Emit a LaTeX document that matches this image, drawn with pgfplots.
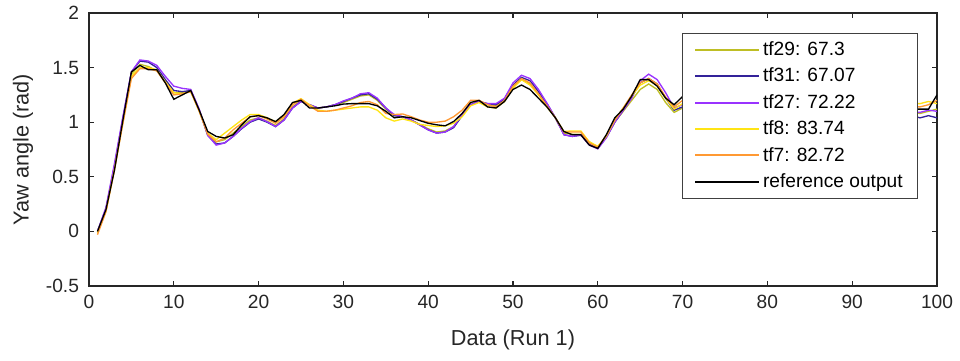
\documentclass[border=0pt]{standalone}
\usepackage{fontspec}
\setmainfont{Liberation Sans}
\usepackage{pgfplots}
\usepackage{pgfplotstable}
\pgfplotsset{compat=1.18}
\definecolor{colA}{RGB}{190,190,36}
\definecolor{colB}{RGB}{51,34,153}
\definecolor{colC}{RGB}{153,51,255}
\definecolor{colD}{RGB}{255,228,20}
\definecolor{colE}{RGB}{255,153,51}
\definecolor{axc}{RGB}{38,38,38}
\definecolor{legframe}{RGB}{64,64,64}
\pgfplotstableread{
x ref tfA tfB tfC tfD tfE
1 0.00 -0.01 0.00 0.00 -0.01 -0.03
2 0.20 0.19 0.21 0.22 0.19 0.18
3 0.56 0.58 0.60 0.62 0.57 0.56
4 1.02 1.02 1.04 1.05 1.00 0.99
5 1.46 1.44 1.46 1.46 1.42 1.40
6 1.52 1.53 1.56 1.57 1.50 1.49
7 1.48 1.51 1.55 1.56 1.50 1.49
8 1.48 1.47 1.50 1.52 1.48 1.47
9 1.36 1.37 1.39 1.42 1.37 1.36
10 1.21 1.27 1.29 1.33 1.27 1.25
11 1.25 1.27 1.28 1.31 1.26 1.26
12 1.29 1.29 1.29 1.30 1.28 1.28
13 1.11 1.11 1.11 1.12 1.10 1.10
14 0.915 0.89 0.88 0.88 0.90 0.89
15 0.87 0.82 0.80 0.79 0.84 0.82
16 0.855 0.84 0.81 0.81 0.90 0.855
17 0.885 0.90 0.87 0.87 0.96 0.93
18 0.975 0.96 0.94 0.945 1.02 0.99
19 1.05 1.02 1.00 1.005 1.07 1.05
20 1.06 1.04 1.03 1.04 1.07 1.06
21 1.04 1.01 1.00 1.005 1.04 1.03
22 1.005 0.97 0.96 0.96 1.005 0.99
23 1.07 1.03 1.02 1.02 1.06 1.05
24 1.18 1.14 1.13 1.13 1.175 1.16
25 1.20 1.20 1.19 1.19 1.215 1.21
26 1.13 1.16 1.16 1.16 1.16 1.15
27 1.13 1.13 1.13 1.13 1.11 1.10
28 1.14 1.14 1.14 1.14 1.10 1.10
29 1.15 1.16 1.16 1.16 1.11 1.11
30 1.166 1.18 1.19 1.195 1.12 1.13
31 1.17 1.21 1.22 1.22 1.13 1.15
32 1.17 1.24 1.25 1.26 1.14 1.18
33 1.17 1.25 1.26 1.27 1.14 1.19
34 1.15 1.20 1.21 1.22 1.11 1.16
35 1.10 1.12 1.13 1.13 1.04 1.08
36 1.04 1.06 1.06 1.07 1.01 1.07
37 1.05 1.05 1.05 1.05 1.03 1.075
38 1.04 1.02 1.02 1.02 1.01 1.05
39 1.015 0.98 0.975 0.976 0.98 1.02
40 0.99 0.94 0.93 0.93 0.97 1.00
41 0.976 0.91 0.90 0.90 0.96 1.00
42 0.967 0.92 0.91 0.91 0.967 1.01
43 1.006 0.96 0.95 0.96 0.99 1.05
44 1.08 1.06 1.06 1.07 1.05 1.11
45 1.18 1.16 1.16 1.16 1.15 1.20
46 1.20 1.19 1.19 1.19 1.18 1.20
47 1.14 1.16 1.17 1.17 1.14 1.16
48 1.13 1.15 1.16 1.17 1.13 1.14
49 1.19 1.21 1.21 1.22 1.19 1.20
50 1.30 1.33 1.34 1.36 1.31 1.33
51 1.34 1.39 1.41 1.43 1.39 1.40
52 1.30 1.35 1.38 1.40 1.34 1.36
53 1.22 1.26 1.28 1.30 1.25 1.26
54 1.14 1.16 1.17 1.175 1.14 1.15
55 1.04 1.04 1.04 1.04 1.04 1.04
56 0.915 0.90 0.885 0.885 0.915 0.91
57 0.885 0.89 0.87 0.87 0.92 0.91
58 0.885 0.89 0.88 0.885 0.92 0.91
59 0.79 0.82 0.80 0.79 0.82 0.81
60 0.76 0.77 0.76 0.756 0.78 0.77
61 0.885 0.87 0.86 0.857 0.87 0.88
62 1.04 1.00 1.00 1.00 1.02 1.02
63 1.12 1.10 1.11 1.11 1.13 1.13
64 1.24 1.20 1.23 1.22 1.24 1.25
65 1.39 1.30 1.36 1.38 1.34 1.36
66 1.39 1.35 1.40 1.44 1.38 1.40
67 1.33 1.30 1.35 1.39 1.34 1.35
68 1.22 1.18 1.22 1.27 1.22 1.23
69 1.16 1.09 1.11 1.13 1.12 1.14
70 1.235 1.13 1.14 1.16 1.17 1.20
71 1.28 1.20 1.21 1.22 1.23 1.25
72 1.30 1.27 1.28 1.29 1.28 1.29
73 1.27 1.28 1.29 1.30 1.27 1.28
74 1.20 1.22 1.23 1.24 1.20 1.21
75 1.12 1.13 1.14 1.15 1.12 1.13
76 1.05 1.05 1.05 1.06 1.06 1.06
77 1.01 0.99 0.99 0.99 1.02 1.01
78 1.02 0.99 0.98 0.98 1.03 1.02
79 1.08 1.05 1.04 1.05 1.09 1.08
80 1.16 1.14 1.13 1.14 1.16 1.16
81 1.21 1.21 1.21 1.22 1.21 1.21
82 1.20 1.22 1.23 1.24 1.20 1.21
83 1.14 1.17 1.18 1.19 1.14 1.16
84 1.08 1.10 1.11 1.12 1.08 1.10
85 1.05 1.05 1.05 1.06 1.06 1.07
86 1.07 1.05 1.04 1.05 1.08 1.08
87 1.13 1.10 1.10 1.11 1.14 1.14
88 1.20 1.18 1.18 1.19 1.20 1.20
89 1.24 1.24 1.25 1.26 1.23 1.24
90 1.22 1.24 1.25 1.27 1.22 1.23
91 1.16 1.19 1.20 1.21 1.16 1.18
92 1.10 1.12 1.12 1.13 1.11 1.12
93 1.07 1.07 1.07 1.08 1.09 1.09
94 1.08 1.06 1.05 1.06 1.10 1.09
95 1.11 1.08 1.07 1.08 1.13 1.12
96 1.13 1.10 1.08 1.10 1.16 1.14
97 1.12 1.09 1.06 1.09 1.17 1.14
98 1.12 1.08 1.04 1.09 1.17 1.14
99 1.12 1.10 1.06 1.11 1.19 1.16
100 1.25 1.12 1.04 1.10 1.17 1.20
}\datatable
\begin{document}
\begin{tikzpicture}
\begin{axis}[
  scale only axis,
  width=508.8pt, height=163.8pt,
  xmin=0, xmax=100, ymin=-0.5, ymax=2,
  xtick={0,10,...,100},
  ytick={-0.5,0,0.5,1,1.5,2},
  yticklabels={-0.5,0,0.5,1,1.5,2},
  tick align=inside,
  major tick length=3pt,
  axis line style={axc, line width=0.75pt},
  tick style={axc, line width=0.75pt},
  tick label style={font=\fontsize{11.5}{13}\selectfont, text=axc},
  /pgf/number format/assume math mode=true,
  xticklabel style={yshift=-2pt},
  yticklabel style={xshift=-2.5pt},
  xlabel={Data (Run 1)},
  ylabel={Yaw angle (rad)},
  label style={font=\fontsize{13}{15}\selectfont, text=axc},
  xlabel style={at={(axis description cs:0.5,-0.198)}, anchor=center},
  ylabel style={at={(axis description cs:-0.0778,0.5)}, anchor=center},
  legend cell align=left,
  legend image code/.code={\draw[#1, line width=1.2pt] (0pt,0pt) -- (38pt,0pt);},
  legend style={at={(rel axis cs:0.9776,0.9267)}, anchor=north east,
    draw=legframe, fill=white,
    font=\fontsize{11.5}{13}\selectfont,
    row sep=0pt, inner xsep=7pt, inner ysep=2pt,
    nodes={inner ysep=3.0pt}},
]
\addplot[color=colA, line width=0.8pt] table[x=x,y=tfA] {\datatable};
\addlegendentry{tf29: 67.3}
\addplot[color=colB, line width=0.8pt] table[x=x,y=tfB] {\datatable};
\addlegendentry{tf31: 67.07}
\addplot[color=colC, line width=0.8pt] table[x=x,y=tfC] {\datatable};
\addlegendentry{tf27: 72.22}
\addplot[color=colD, line width=0.8pt] table[x=x,y=tfD] {\datatable};
\addlegendentry{tf8: 83.74}
\addplot[color=colE, line width=0.8pt] table[x=x,y=tfE] {\datatable};
\addlegendentry{tf7: 82.72}
\addplot[color=black, line width=0.8pt] table[x=x,y=ref] {\datatable};
\addlegendentry{reference output}
\end{axis}
\pgfresetboundingbox
\path ([shift={(-53.4pt,-45pt)}]current axis.south west) rectangle ([shift={(13.8pt,7.8pt)}]current axis.north east);
\end{tikzpicture}
\end{document}
